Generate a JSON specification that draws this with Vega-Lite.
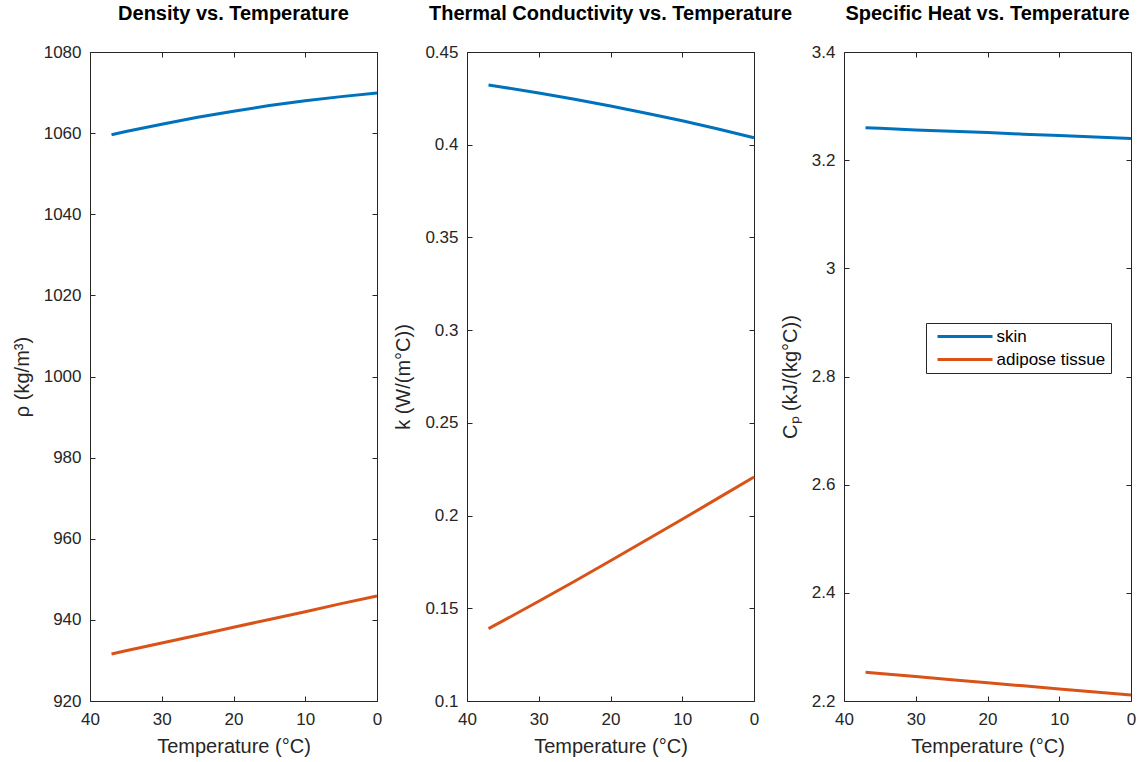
{
  "$schema": "https://vega.github.io/schema/vega-lite/v6.json",
  "background": "#ffffff",
  "padding": {"left": 12, "top": 4, "right": 8, "bottom": 5},
  "bounds": "flush",
  "spacing": 90,
  "config": {
    "font": "Liberation Sans",
    "view": {"stroke": null},
    "axis": {
      "grid": false,
      "domainColor": "#262626",
      "tickColor": "#262626",
      "labelColor": "#262626",
      "titleColor": "#262626",
      "domainWidth": 1,
      "tickWidth": 1,
      "tickSize": 5,
      "labelFont": "Liberation Sans",
      "titleFont": "Liberation Sans",
      "labelFontSize": 17,
      "titleFontSize": 20,
      "titleFontWeight": "normal",
      "labelFlush": false,
      "labelOverlap": false,
      "labelBound": false
    },
    "axisBottom": {"labelPadding": 10, "titlePadding": 9},
    "axisLeft": {"labelPadding": 9, "titlePadding": 11},
    "title": {"font": "Liberation Sans", "fontSize": 20, "fontWeight": "bold", "color": "#000000", "anchor": "middle", "baseline": "alphabetic", "offset": 19}
  },
  "data": {
    "values": [
      {"T": 37, "material": "skin", "rho": 1059.6, "k": 0.4322, "cp": 3.260},
      {"T": 35, "material": "skin", "rho": 1060.4, "k": 0.4310, "cp": 3.259},
      {"T": 30, "material": "skin", "rho": 1062.2, "k": 0.4279, "cp": 3.256},
      {"T": 25, "material": "skin", "rho": 1063.9, "k": 0.4245, "cp": 3.2535},
      {"T": 20, "material": "skin", "rho": 1065.4, "k": 0.4209, "cp": 3.251},
      {"T": 15, "material": "skin", "rho": 1066.8, "k": 0.4170, "cp": 3.248},
      {"T": 10, "material": "skin", "rho": 1068.0, "k": 0.4129, "cp": 3.2455},
      {"T": 5, "material": "skin", "rho": 1069.0, "k": 0.4085, "cp": 3.243},
      {"T": 0, "material": "skin", "rho": 1069.9, "k": 0.4038, "cp": 3.240},
      {"T": 37, "material": "adipose tissue", "rho": 931.6, "k": 0.1390, "cp": 2.253},
      {"T": 35, "material": "adipose tissue", "rho": 932.4, "k": 0.1432, "cp": 2.2507},
      {"T": 30, "material": "adipose tissue", "rho": 934.3, "k": 0.1538, "cp": 2.2451},
      {"T": 25, "material": "adipose tissue", "rho": 936.2, "k": 0.1646, "cp": 2.2394},
      {"T": 20, "material": "adipose tissue", "rho": 938.2, "k": 0.1756, "cp": 2.2337},
      {"T": 15, "material": "adipose tissue", "rho": 940.1, "k": 0.1868, "cp": 2.2280},
      {"T": 10, "material": "adipose tissue", "rho": 942.0, "k": 0.1980, "cp": 2.2224},
      {"T": 5, "material": "adipose tissue", "rho": 944.0, "k": 0.2094, "cp": 2.2167},
      {"T": 0, "material": "adipose tissue", "rho": 945.9, "k": 0.2208, "cp": 2.2110}
    ]
  },
  "hconcat": [
    {
      "width": 287, "height": 649,
      "title": {"text": "Density vs. Temperature"},
      "layer": [
        {
          "mark": {"type": "line", "strokeWidth": 3},
          "encoding": {
            "x": {"field": "T", "type": "quantitative", "scale": {"domain": [0, 40], "reverse": true, "nice": false}, "axis": {"orient": "bottom", "values": [0, 10, 20, 30, 40], "ticks": false, "title": "Temperature (°C)"}},
            "y": {"field": "rho", "type": "quantitative", "scale": {"domain": [920, 1080], "nice": false, "zero": false}, "axis": {"orient": "left", "values": [920, 940, 960, 980, 1000, 1020, 1040, 1060, 1080], "ticks": false, "format": "d", "title": "ρ (kg/m³)"}},
            "color": {"field": "material", "type": "nominal", "scale": {"domain": ["skin", "adipose tissue"], "range": ["#0072BD", "#D95319"]},
              "legend": {"orient": "none", "legendX": 836, "legendY": 271, "title": null, "symbolType": "M-5.5,0H5.5", "symbolSize": 100, "symbolOffset": 25.5, "symbolStrokeWidth": 3, "labelFontSize": 17, "labelColor": "#000000", "labelFont": "Liberation Sans", "strokeColor": "#262626", "fillColor": "#ffffff", "padding": 5, "rowPadding": 5, "labelOffset": 23}}
          }
        },
        {
          "mark": {"type": "line", "strokeOpacity": 0},
          "encoding": {
            "x": {"field": "T", "type": "quantitative", "axis": {"orient": "top", "labels": false, "ticks": false, "title": null}},
            "y": {"field": "rho", "type": "quantitative", "axis": {"orient": "right", "labels": false, "ticks": false, "title": null}},
            "detail": {"field": "material"}
          }
        },
        {
          "mark": {"type": "line", "strokeOpacity": 0},
          "encoding": {
            "x": {"field": "T", "type": "quantitative", "axis": {"orient": "top", "offset": -649, "values": [0, 10, 20, 30, 40], "labels": false, "domain": false, "title": null}},
            "y": {"field": "rho", "type": "quantitative", "axis": {"orient": "right", "offset": -287, "values": [920, 940, 960, 980, 1000, 1020, 1040, 1060, 1080], "labels": false, "domain": false, "title": null}},
            "detail": {"field": "material"}
          }
        },
        {
          "mark": {"type": "line", "strokeOpacity": 0},
          "encoding": {
            "x": {"field": "T", "type": "quantitative", "axis": {"orient": "bottom", "offset": -649, "values": [0, 10, 20, 30, 40], "labels": false, "domain": false, "title": null}},
            "y": {"field": "rho", "type": "quantitative", "axis": {"orient": "left", "offset": -287, "values": [920, 940, 960, 980, 1000, 1020, 1040, 1060, 1080], "labels": false, "domain": false, "title": null}},
            "detail": {"field": "material"}
          }
        }
      ],
      "resolve": {"axis": {"x": "independent", "y": "independent"}}
    },
    {
      "width": 287, "height": 649,
      "title": {"text": "Thermal Conductivity vs. Temperature"},
      "layer": [
        {
          "mark": {"type": "line", "strokeWidth": 3},
          "encoding": {
            "x": {"field": "T", "type": "quantitative", "scale": {"domain": [0, 40], "reverse": true, "nice": false}, "axis": {"orient": "bottom", "values": [0, 10, 20, 30, 40], "ticks": false, "title": "Temperature (°C)"}},
            "y": {"field": "k", "type": "quantitative", "scale": {"domain": [0.1, 0.45], "nice": false, "zero": false}, "axis": {"orient": "left", "values": [0.1, 0.15, 0.2, 0.25, 0.3, 0.35, 0.4, 0.45], "ticks": false, "format": ".2~f", "title": "k (W/(m°C))"}},
            "color": {"field": "material", "type": "nominal", "scale": {"domain": ["skin", "adipose tissue"], "range": ["#0072BD", "#D95319"]},
              "legend": {"orient": "none", "legendX": 836, "legendY": 271, "title": null, "symbolType": "M-5.5,0H5.5", "symbolSize": 100, "symbolOffset": 25.5, "symbolStrokeWidth": 3, "labelFontSize": 17, "labelColor": "#000000", "labelFont": "Liberation Sans", "strokeColor": "#262626", "fillColor": "#ffffff", "padding": 5, "rowPadding": 5, "labelOffset": 23}}
          }
        },
        {
          "mark": {"type": "line", "strokeOpacity": 0},
          "encoding": {
            "x": {"field": "T", "type": "quantitative", "axis": {"orient": "top", "labels": false, "ticks": false, "title": null}},
            "y": {"field": "k", "type": "quantitative", "axis": {"orient": "right", "labels": false, "ticks": false, "title": null}},
            "detail": {"field": "material"}
          }
        },
        {
          "mark": {"type": "line", "strokeOpacity": 0},
          "encoding": {
            "x": {"field": "T", "type": "quantitative", "axis": {"orient": "top", "offset": -649, "values": [0, 10, 20, 30, 40], "labels": false, "domain": false, "title": null}},
            "y": {"field": "k", "type": "quantitative", "axis": {"orient": "right", "offset": -287, "values": [0.1, 0.15, 0.2, 0.25, 0.3, 0.35, 0.4, 0.45], "labels": false, "domain": false, "title": null}},
            "detail": {"field": "material"}
          }
        },
        {
          "mark": {"type": "line", "strokeOpacity": 0},
          "encoding": {
            "x": {"field": "T", "type": "quantitative", "axis": {"orient": "bottom", "offset": -649, "values": [0, 10, 20, 30, 40], "labels": false, "domain": false, "title": null}},
            "y": {"field": "k", "type": "quantitative", "axis": {"orient": "left", "offset": -287, "values": [0.1, 0.15, 0.2, 0.25, 0.3, 0.35, 0.4, 0.45], "labels": false, "domain": false, "title": null}},
            "detail": {"field": "material"}
          }
        }
      ],
      "resolve": {"axis": {"x": "independent", "y": "independent"}}
    },
    {
      "width": 287, "height": 649,
      "title": {"text": "Specific Heat vs. Temperature"},
      "layer": [
        {
          "mark": {"type": "line", "strokeWidth": 3},
          "encoding": {
            "x": {"field": "T", "type": "quantitative", "scale": {"domain": [0, 40], "reverse": true, "nice": false}, "axis": {"orient": "bottom", "values": [0, 10, 20, 30, 40], "ticks": false, "title": "Temperature (°C)"}},
            "y": {"field": "cp", "type": "quantitative", "scale": {"domain": [2.2, 3.4], "nice": false, "zero": false}, "axis": {"orient": "left", "values": [2.2, 2.4, 2.6, 2.8, 3.0, 3.2, 3.4], "ticks": false, "format": ".1~f", "title": "Cₚ (kJ/(kg°C))"}},
            "color": {"field": "material", "type": "nominal", "scale": {"domain": ["skin", "adipose tissue"], "range": ["#0072BD", "#D95319"]},
              "legend": {"orient": "none", "legendX": 836, "legendY": 271, "title": null, "symbolType": "M-5.5,0H5.5", "symbolSize": 100, "symbolOffset": 25.5, "symbolStrokeWidth": 3, "labelFontSize": 17, "labelColor": "#000000", "labelFont": "Liberation Sans", "strokeColor": "#262626", "fillColor": "#ffffff", "padding": 5, "rowPadding": 5, "labelOffset": 23}}
          }
        },
        {
          "mark": {"type": "line", "strokeOpacity": 0},
          "encoding": {
            "x": {"field": "T", "type": "quantitative", "axis": {"orient": "top", "labels": false, "ticks": false, "title": null}},
            "y": {"field": "cp", "type": "quantitative", "axis": {"orient": "right", "labels": false, "ticks": false, "title": null}},
            "detail": {"field": "material"}
          }
        },
        {
          "mark": {"type": "line", "strokeOpacity": 0},
          "encoding": {
            "x": {"field": "T", "type": "quantitative", "axis": {"orient": "top", "offset": -649, "values": [0, 10, 20, 30, 40], "labels": false, "domain": false, "title": null}},
            "y": {"field": "cp", "type": "quantitative", "axis": {"orient": "right", "offset": -287, "values": [2.2, 2.4, 2.6, 2.8, 3.0, 3.2, 3.4], "labels": false, "domain": false, "title": null}},
            "detail": {"field": "material"}
          }
        },
        {
          "mark": {"type": "line", "strokeOpacity": 0},
          "encoding": {
            "x": {"field": "T", "type": "quantitative", "axis": {"orient": "bottom", "offset": -649, "values": [0, 10, 20, 30, 40], "labels": false, "domain": false, "title": null}},
            "y": {"field": "cp", "type": "quantitative", "axis": {"orient": "left", "offset": -287, "values": [2.2, 2.4, 2.6, 2.8, 3.0, 3.2, 3.4], "labels": false, "domain": false, "title": null}},
            "detail": {"field": "material"}
          }
        }
      ],
      "resolve": {"axis": {"x": "independent", "y": "independent"}}
    }
  ]
}
